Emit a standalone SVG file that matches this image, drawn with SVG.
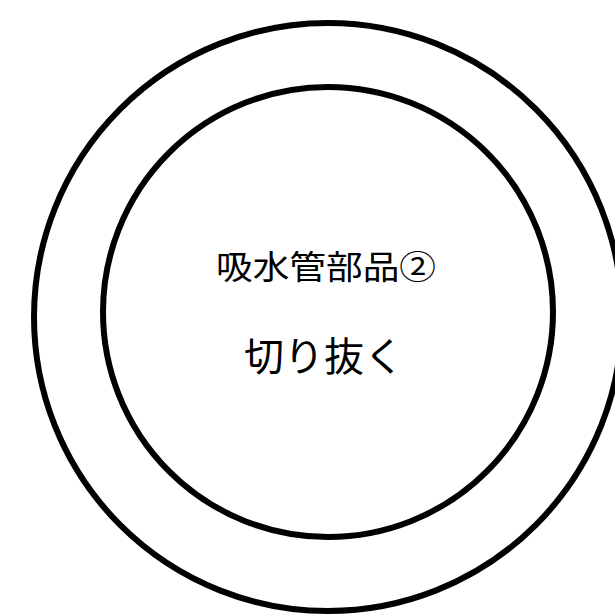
<svg xmlns="http://www.w3.org/2000/svg" width="615" height="615" viewBox="0 0 615 615">
<style>
.ring{fill:none;stroke:#000;stroke-width:6}
.t{font-family:"Noto Sans CJK JP","Noto Sans CJK SC",sans-serif;fill:#000;font-weight:400}
</style>
<rect width="615" height="615" fill="#fff"/>
<g id="outer"><circle class="ring" cx="328" cy="317" r="294"/></g>
<g id="inner"><circle class="ring" cx="328" cy="312" r="225"/></g>
<g id="labels">
<text class="t" x="216" y="279" font-size="33" textLength="220" lengthAdjust="spacingAndGlyphs">吸水管部品②</text>
<text class="t" x="244" y="371" font-size="40">切り抜く</text>
</g>
</svg>
